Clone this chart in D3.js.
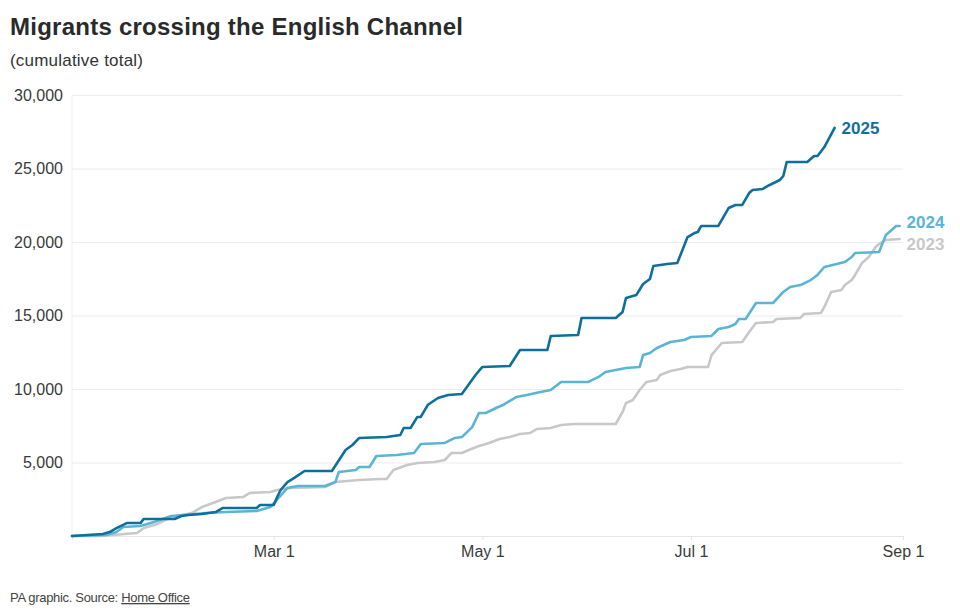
<!DOCTYPE html>
<html>
<head>
<meta charset="utf-8">
<script src="https://cdn.jsdelivr.net/npm/d3@7"></script>
<style>
  body { margin: 0; background: #fff; }
  svg { display: block; font-family: 'Liberation Sans', Arial, Helvetica, sans-serif; }
</style>
</head>
<body>
<svg></svg>
<script>
'use strict'

// cumulative small boat arrivals
const dates2025 = ['Jan 1', 'Jan 10', 'Jan 12', 'Jan 14', 'Jan 17', 'Jan 21', 'Jan 22', 'Jan 31',
  'Feb 2', 'Feb 4', 'Feb 8', 'Feb 12', 'Feb 14', 'Feb 24', 'Feb 25',
  'Mar 1', 'Mar 2', 'Mar 3', 'Mar 5', 'Mar 7', 'Mar 10', 'Mar 18', 'Mar 22', 'Mar 24', 'Mar 26',
  'Apr 3', 'Apr 7', 'Apr 8', 'Apr 10', 'Apr 12', 'Apr 13', 'Apr 15', 'Apr 18', 'Apr 21', 'Apr 25', 'Apr 29',
  'May 1', 'May 9', 'May 12', 'May 20', 'May 21', 'May 29', 'May 30',
  'Jun 9', 'Jun 11', 'Jun 12', 'Jun 15', 'Jun 17', 'Jun 19', 'Jun 20', 'Jun 24', 'Jun 27', 'Jun 30',
  'Jul 2', 'Jul 3', 'Jul 4', 'Jul 9', 'Jul 12', 'Jul 14', 'Jul 16', 'Jul 18', 'Jul 19', 'Jul 22', 'Jul 24',
  'Jul 27', 'Jul 28', 'Jul 29', 'Aug 4', 'Aug 6', 'Aug 7', 'Aug 9', 'Aug 12']
const values2025 = [0, 140, 270, 540, 880, 880, 1160, 1160,
  1360, 1430, 1500, 1630, 1900, 1900, 2110,
  2110, 2650, 3130, 3670, 3950, 4420, 4420, 5850, 6190, 6670,
  6730, 6870, 7350, 7350, 8100, 8100, 8910, 9390, 9590, 9660, 10950,
  11500, 11560, 12650, 12650, 13610, 13670, 14830,
  14830, 15240, 16190, 16390, 17140, 17480, 18370, 18500, 18570, 20340,
  20610, 20680, 21090, 21090, 22310, 22520, 22520, 23330, 23540, 23610, 23880,
  24220, 24490, 25440, 25440, 25850, 25850, 26460, 27760]

const dates2024 = ['Jan 1', 'Jan 11', 'Jan 14', 'Jan 16', 'Jan 21', 'Jan 25', 'Jan 30',
  'Feb 3', 'Feb 9', 'Feb 15', 'Feb 24', 'Feb 28',
  'Mar 5', 'Mar 8', 'Mar 16', 'Mar 19', 'Mar 20', 'Mar 25', 'Mar 26', 'Mar 29', 'Mar 31',
  'Apr 6', 'Apr 11', 'Apr 13', 'Apr 20', 'Apr 23', 'Apr 25', 'Apr 28', 'Apr 30',
  'May 2', 'May 5', 'May 7', 'May 11', 'May 14', 'May 18', 'May 21', 'May 24',
  'Jun 1', 'Jun 4', 'Jun 6', 'Jun 12', 'Jun 16', 'Jun 17', 'Jun 19', 'Jun 21', 'Jun 25', 'Jun 29',
  'Jul 1', 'Jul 7', 'Jul 9', 'Jul 12', 'Jul 14', 'Jul 15', 'Jul 17', 'Jul 20', 'Jul 25', 'Jul 28', 'Jul 30',
  'Aug 2', 'Aug 5', 'Aug 7', 'Aug 9', 'Aug 15', 'Aug 17', 'Aug 18', 'Aug 25', 'Aug 27', 'Aug 29', 'Aug 30', 'Aug 31']
const values2024 = [0, 70, 270, 610, 680, 950, 1360,
  1430, 1560, 1630, 1700, 1970,
  3270, 3400, 3400, 3670, 4350, 4490, 4690, 4690, 5440,
  5510, 5650, 6260, 6330, 6670, 6730, 7410, 8370,
  8370, 8710, 8910, 9460, 9590, 9800, 9930, 10480,
  10480, 10820, 11160, 11430, 11500, 12310, 12450, 12790, 13200, 13330,
  13540, 13610, 14080, 14220, 14420, 14760, 14760, 15850, 15850, 16600, 16940,
  17070, 17410, 17760, 18300, 18640, 18980, 19250, 19320, 20480, 20880, 21090, 21090]

const dates2023 = ['Jan 1', 'Jan 9', 'Jan 13', 'Jan 20', 'Jan 22', 'Jan 26', 'Jan 30',
  'Feb 5', 'Feb 8', 'Feb 12', 'Feb 15', 'Feb 20', 'Feb 22', 'Feb 28',
  'Mar 2', 'Mar 6', 'Mar 16', 'Mar 19', 'Mar 26',
  'Apr 1', 'Apr 3', 'Apr 5', 'Apr 9', 'Apr 12', 'Apr 17', 'Apr 20', 'Apr 22', 'Apr 25', 'Apr 27', 'Apr 30',
  'May 3', 'May 6', 'May 9', 'May 12', 'May 15', 'May 17', 'May 21', 'May 24', 'May 28',
  'Jun 9', 'Jun 11', 'Jun 12', 'Jun 14', 'Jun 16', 'Jun 18', 'Jun 21', 'Jun 22', 'Jun 25', 'Jun 28', 'Jun 30',
  'Jul 6', 'Jul 7', 'Jul 10', 'Jul 16', 'Jul 18', 'Jul 20', 'Jul 25', 'Jul 26',
  'Aug 2', 'Aug 3', 'Aug 8', 'Aug 9', 'Aug 11', 'Aug 14', 'Aug 15', 'Aug 17', 'Aug 18', 'Aug 20',
  'Aug 22', 'Aug 24', 'Aug 25', 'Aug 27', 'Aug 31']
const values2023 = [0, 0, 70, 200, 540, 820, 1290,
  1560, 1970, 2310, 2590, 2650, 2930, 2990,
  3130, 3270, 3330, 3670, 3810,
  3880, 3880, 4490, 4830, 4970, 5030, 5170, 5650, 5650, 5850, 6120,
  6330, 6600, 6730, 6940, 7010, 7280, 7350, 7550, 7620,
  7620, 8440, 9050, 9250, 9930, 10480, 10610, 10950, 11220, 11360, 11500,
  11500, 12310, 13130, 13200, 13880, 14490, 14560, 14760,
  14830, 15100, 15170, 15580, 16600, 16730, 17070, 17410, 17760, 18570,
  18980, 19660, 19860, 20140, 20200]

const yTicks = [5000, 10000, 15000, 20000, 25000, 30000]
const xTicks = ['Mar 1', 'May 1', 'Jul 1', 'Sep 1']

const W = 960,
  H = 611
const margin = { top: 95, right: 57, bottom: 75, left: 72 }
const width = W - margin.left - margin.right,
  height = H - margin.top - margin.bottom

// every year is laid over the same Jan-Sep calendar
const parseDay = s => d3.timeParse('%b %d %Y')(s + ' 2025')

const colors = { '2023': '#c8c8c8', '2024': '#5ab5d4', '2025': '#0f6f9c' }
const labelDy = { '2023': 5, '2024': -4, '2025': 0 }

const series = [
  { year: '2023', dates: dates2023, values: values2023 },
  { year: '2024', dates: dates2024, values: values2024 },
  { year: '2025', dates: dates2025, values: values2025 }
].map(s => ({
  year: s.year,
  points: s.dates.map((d, i) => ({ date: parseDay(d), value: s.values[i] }))
}))

const svg = d3.select('svg').attr('width', W).attr('height', H)

const x = d3
  .scaleTime()
  .domain([parseDay('Jan 1'), parseDay('Sep 1')])
  .range([0, width])

const y = d3
  .scaleLinear()
  .domain([0, 30000])
  .range([height, 0])

// fit a line of text to the width it has in the original
function fit(sel, target) {
  const n = sel.text().length
  const w = sel.node().getComputedTextLength()
  sel.attr('letter-spacing', (target - w) / (n - 1))
}

svg
  .append('text')
  .attr('x', 10)
  .attr('y', 35)
  .attr('font-size', 24)
  .attr('font-weight', 'bold')
  .attr('fill', '#2a2a2a')
  .text('Migrants crossing the English Channel')
  .call(fit, 453)

svg
  .append('text')
  .attr('x', 10)
  .attr('y', 66)
  .attr('font-size', 17)
  .attr('fill', '#333')
  .text('(cumulative total)')
  .call(fit, 133)

const g = svg
  .append('g')
  .attr('transform', 'translate(' + margin.left + ',' + margin.top + ')')

// y axis with grid
g.append('g')
  .attr('class', 'y-axis')
  .call(
    d3
      .axisLeft(y)
      .tickValues(yTicks)
      .tickSize(-width)
      .tickPadding(9)
      .tickFormat(d3.format(','))
  )
  .call(a => a.select('.domain').remove())
  .call(a => a.selectAll('line').attr('stroke', '#ececec'))
  .call(a =>
    a
      .selectAll('text')
      .attr('font-size', 16)
      .attr('fill', '#3a3a3a')
      .attr('font-family', "'Liberation Sans', Arial, sans-serif")
  )

g.append('line')
  .attr('x1', 0)
  .attr('x2', 0)
  .attr('y1', 0)
  .attr('y2', height)
  .attr('stroke', '#efefef')

// x axis
g.append('g')
  .attr('class', 'x-axis')
  .attr('transform', 'translate(0,' + height + ')')
  .call(
    d3
      .axisBottom(x)
      .tickValues(xTicks.map(parseDay))
      .tickSize(4)
      .tickPadding(6)
      .tickFormat(d3.timeFormat('%b %-d'))
  )
  .call(a => a.select('.domain').attr('stroke', '#e6e6e6'))
  .call(a => a.selectAll('line').attr('stroke', '#e6e6e6'))
  .call(a =>
    a
      .selectAll('text')
      .attr('font-size', 16)
      .attr('fill', '#3a3a3a')
      .attr('font-family', "'Liberation Sans', Arial, sans-serif")
  )

const line = d3
  .line()
  .x(d => x(d.date))
  .y(d => y(d.value))

g.selectAll('path.series')
  .data(series)
  .enter()
  .append('path')
  .attr('class', 'series')
  .attr('d', d => line(d.points))
  .attr('fill', 'none')
  .attr('stroke', d => colors[d.year])
  .attr('stroke-width', 2.6)
  .attr('stroke-linejoin', 'round')
  .attr('stroke-linecap', 'round')

g.selectAll('text.label')
  .data(series)
  .enter()
  .append('text')
  .attr('class', 'label')
  .attr('x', d => x(d.points[d.points.length - 1].date) + 7)
  .attr('y', d => y(d.points[d.points.length - 1].value) + labelDy[d.year])
  .attr('dy', '0.35em')
  .attr('font-size', 17)
  .attr('font-weight', 'bold')
  .attr('fill', d => colors[d.year])
  .text(d => d.year)

// footer
const foot = svg
  .append('text')
  .attr('x', 10)
  .attr('y', 602)
  .attr('font-size', 13)
  .attr('fill', '#444')

foot.append('tspan').text('PA graphic. Source: ')
foot
  .append('tspan')
  .attr('text-decoration', 'underline')
  .text('Home Office')
foot.call(fit, 180)
</script>
</body>
</html>
